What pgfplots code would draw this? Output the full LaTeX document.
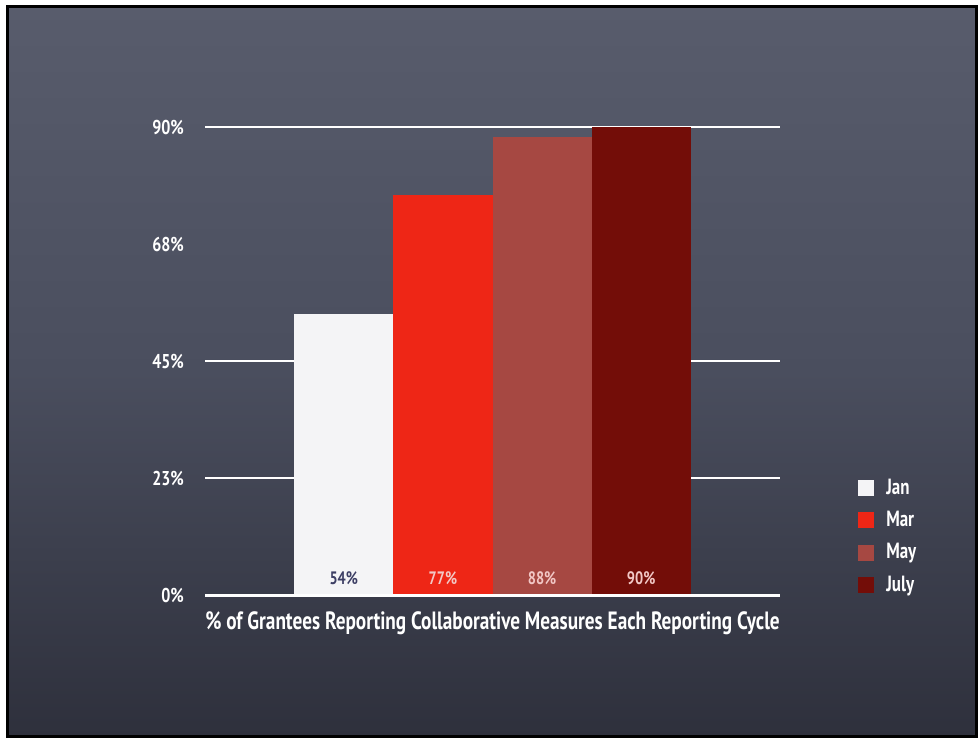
\documentclass[border=0pt]{standalone}
\usepackage{pgfplots}
\pgfplotsset{compat=1.18}
\usepackage{fontspec}
\setmainfont{PT Sans}[FakeStretch=0.8]
\newfontfamily\chalk{PT Sans}[FakeStretch=0.77]
\definecolor{bgtop}{RGB}{88,92,108}
\definecolor{bgmid}{RGB}{74,78,94}
\definecolor{bgbot}{RGB}{46,48,60}
\definecolor{cjan}{RGB}{244,244,246}
\definecolor{cmar}{RGB}{238,38,22}
\definecolor{cmay}{RGB}{166,72,66}
\definecolor{cjul}{RGB}{115,13,8}
\definecolor{lbldark}{RGB}{60,62,100}
\definecolor{lblpink}{RGB}{242,200,198}
\pgfplotsset{
  mybar/.style={ybar, bar width=1, draw=none, fill=#1,
    legend image code/.code={\fill[#1] (0pt,-4pt) rectangle (8pt,4pt);}},
}
\begin{document}
\begin{tikzpicture}[x=1pt,y=1pt]
\fill[white] (0,0) rectangle (489.5,370);
\shade[top color=bgtop, bottom color=bgbot, middle color=bgmid] (3.75,1.75) rectangle (488,366.75);
\draw[black, line width=1.5pt] (3.75,1.75) rectangle (488,366.75);
\begin{axis}[
  at={(102.5pt,72.5pt)}, anchor=south west,
  scale only axis, width=287.5pt, height=234pt,
  xmin=-2.9, xmax=2.9, ymin=0, ymax=90,
  axis line style={draw=none},
  xtick=\empty,
  ytick={0,22.5,45,67.5,90},
  yticklabels={0\%,23\%,45\%,68\%,90\%},
  major tick length=0pt,
  /pgf/number format/assume math mode=true,
  yticklabel style={font=\bfseries\fontsize{10}{12}\selectfont, text=white, xshift=-7pt},
  extra y ticks={22.5,45,90},
  extra y tick labels={},
  extra y tick style={grid=major, major grid style={white, line width=1pt}},
  xlabel={\chalk\bfseries\fontsize{12.5}{14}\selectfont \% of Grantees Reporting Collaborative Measures Each Reporting Cycle},
  xlabel style={at={(axis description cs:0.5,0)}, anchor=north, yshift=-8pt, inner sep=0pt, text=white},
  legend style={at={(axis description cs:1.125,0.262)}, anchor=north west, draw=none, fill=none,
    text=white, font=\chalk\bfseries\fontsize{11}{13}\selectfont, row sep=5pt,
    nodes={inner sep=1pt}},
  legend cell align=left,
  /tikz/every odd column/.append style={column sep=5pt},
  clip=false,
]
\addplot[mybar=cjan, bar shift=-1.5] coordinates {(0,54)};
\addplot[mybar=cmar, bar shift=-0.5] coordinates {(0,77)};
\addplot[mybar=cmay, bar shift=0.5] coordinates {(0,88)};
\addplot[mybar=cjul, bar shift=1.5] coordinates {(0,90)};
\legend{Jan,Mar,May,July}
\draw[white, line width=1.5pt] (axis cs:-2.9,0) -- (axis cs:2.9,0);
\addplot[draw=none, mark=none, forget plot, nodes near coords, point meta=explicit symbolic,
  every node near coord/.append style={anchor=south, yshift=1.5pt, font=\bfseries\fontsize{9}{10}\selectfont}]
  coordinates {(-1.5,0)[\textcolor{lbldark}{54\%}] (-0.5,0)[\textcolor{lblpink}{77\%}] (0.5,0)[\textcolor{lblpink}{88\%}] (1.5,0)[\textcolor{lblpink}{90\%}]};
\end{axis}
\end{tikzpicture}
\end{document}
